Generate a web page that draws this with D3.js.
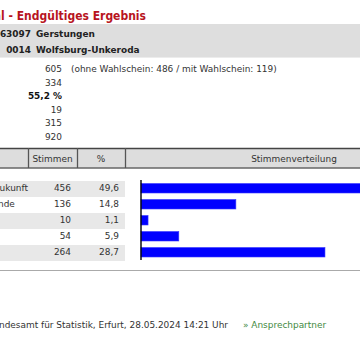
<!DOCTYPE html>
<html><head><meta charset="utf-8">
<script src="https://cdn.jsdelivr.net/npm/d3@7"></script>
<style>
html,body{margin:0;padding:0;background:#fff;overflow:hidden;}
svg{display:block;font-family:"DejaVu Sans",Verdana,sans-serif;}
</style></head><body>
<script>
const titleText = "Ortschaftsratswahl - Endgültiges Ergebnis";
const areaCodes = ["16063097", "0014"];
const areaNames = ["Gerstungen", "Wolfsburg-Unkeroda"];
const statLabels = ["Wahlberechtigte", "Wähler", "Wahlbeteiligung", "ungültige Stimmzettel", "gültige Stimmzettel", "gültige Stimmen"];
const statValues = ["605", "334", "55,2 %", "19", "315", "920"];
const statBold = [false, false, true, false, false, false];
const wahlscheinNote = "(ohne Wahlschein: 486 / mit Wahlschein: 119)";
const headers = ["", "Stimmen", "%", "Stimmenverteilung"];
const parties = ["Aktiv für unsere Zukunft", "Wir für die Gemeinde", "SPD", "CDU", "AfD"];
const votes = [456, 136, 10, 54, 264];
const percents = [49.6, 14.8, 1.1, 5.9, 28.7];
const footerText = "Thüringer Landesamt für Statistik, Erfurt, 28.05.2024 14:21 Uhr";
const linkText = "» Ansprechpartner";

const W = 360, H = 360;
const svg = d3.select("body").append("svg").attr("width", W).attr("height", H);
svg.append("rect").attr("width", W).attr("height", H).attr("fill", "#fff");
const fs = 8.95;
const fmt = v => d3.format(".1f")(v).replace(".", ",");

// title
svg.append("text").attr("x", 146).attr("y", 20).attr("text-anchor", "end")
  .attr("font-family", "'DejaVu Sans Condensed','DejaVu Sans',sans-serif")
  .attr("font-size", 12).attr("font-weight", "bold").attr("fill", "#b8141e")
  .text(titleText);

// area band
svg.append("rect").attr("x", 0).attr("y", 24).attr("width", W).attr("height", 33).attr("fill", "#dedede");
svg.append("line").attr("x1", 0).attr("x2", W).attr("y1", 57.5).attr("y2", 57.5).attr("stroke", "#ececec");
const bandY = d3.scalePoint().domain(d3.range(areaCodes.length)).range([36.5, 53]);
areaCodes.forEach((c, i) => {
  svg.append("text").attr("x", 31).attr("y", bandY(i)).attr("text-anchor", "end")
    .attr("font-size", fs).attr("font-weight", "bold").attr("fill", "#222").text(c);
  svg.append("text").attr("x", 36).attr("y", bandY(i))
    .attr("font-size", fs).attr("font-weight", "bold").attr("fill", "#222").text(areaNames[i]);
});

// stats
const statY = d3.scalePoint().domain(d3.range(statValues.length)).range([72.3, 139.5]);
statValues.forEach((v, i) => {
  svg.append("text").attr("x", -20).attr("y", statY(i)).attr("text-anchor", "end")
    .attr("font-size", fs).attr("fill", "#333").text(statLabels[i]);
  svg.append("text").attr("x", 62).attr("y", statY(i)).attr("text-anchor", "end")
    .attr("font-size", fs).attr("font-weight", statBold[i] ? "bold" : "normal")
    .attr("fill", statBold[i] ? "#111" : "#333").text(v);
});
svg.append("text").attr("x", 71).attr("y", statY(0)).attr("font-size", fs).attr("fill", "#333").text(wahlscheinNote);

// header
const colEdges = [-200, 28, 77, 125, 470];
svg.append("rect").attr("x", 0).attr("y", 148).attr("width", W).attr("height", 20).attr("fill", "#dddddd");
svg.append("line").attr("x1", 0).attr("x2", W).attr("y1", 148.5).attr("y2", 148.5).attr("stroke", "#444").attr("stroke-width", 1.5);
svg.append("line").attr("x1", 0).attr("x2", W).attr("y1", 168).attr("y2", 168).attr("stroke", "#666").attr("stroke-width", 1.5);
colEdges.slice(1, 4).forEach(x => {
  svg.append("line").attr("x1", x + 0.5).attr("x2", x + 0.5).attr("y1", 148).attr("y2", 168).attr("stroke", "#555").attr("stroke-width", 1.3);
});
const headerCenters = [null, 52.5, 101, 294];
headers.forEach((h, i) => {
  if (!h) return;
  svg.append("text").attr("x", headerCenters[i]).attr("y", 162).attr("text-anchor", "middle")
    .attr("font-size", fs).attr("fill", "#333").text(h);
});

// rows
const rowY = d3.scaleBand().domain(d3.range(parties.length)).range([181, 261]).paddingInner(0);
const rows = svg.append("g");
rows.selectAll("rect.bg").data(parties).join("rect")
  .attr("x", 0).attr("y", (d, i) => rowY(i)).attr("width", 125).attr("height", rowY.bandwidth())
  .attr("fill", (d, i) => i % 2 === 0 ? "#e8e8e8" : "#fff");

const nameTexts = rows.selectAll("text.name").data(parties).join("text")
  .attr("y", (d, i) => rowY(i) + 10.3).attr("font-size", fs).attr("fill", "#333").text(d => d);
const w0 = nameTexts.nodes()[0].getComputedTextLength();
nameTexts.attr("x", 28 - w0);

rows.selectAll("text.votes").data(votes).join("text")
  .attr("x", 71).attr("y", (d, i) => rowY(i) + 10.3).attr("text-anchor", "end")
  .attr("font-size", fs).attr("fill", "#333").text(d => d);
rows.selectAll("text.pct").data(percents).join("text")
  .attr("x", 119).attr("y", (d, i) => rowY(i) + 10.3).attr("text-anchor", "end")
  .attr("font-size", fs).attr("fill", "#333").text(d => fmt(d));

// bars
const x = d3.scaleLinear().domain([0, 50]).range([141, 141 + 320.5]);
svg.selectAll("rect.bar").data(percents).join("rect")
  .attr("x", x(0)).attr("y", (d, i) => rowY(i) + 2.5)
  .attr("width", d => x(d) - x(0)).attr("height", 9.5)
  .attr("fill", "#0000ff").attr("stroke", "#3a3aff").attr("stroke-width", 0.6);
svg.append("line").attr("x1", 141).attr("x2", 141).attr("y1", 180).attr("y2", 260)
  .attr("stroke", "#000").attr("stroke-width", 1.4);

// bottom rule & footer
svg.append("line").attr("x1", 0).attr("x2", W).attr("y1", 270.5).attr("y2", 270.5).attr("stroke", "#aaa").attr("stroke-width", 1);
svg.append("text").attr("x", 228).attr("y", 328).attr("text-anchor", "end")
  .attr("font-size", fs).attr("fill", "#333").text(footerText);
svg.append("text").attr("x", 243).attr("y", 328)
  .attr("font-size", fs).attr("fill", "#3f8a3f").text(linkText);
</script>
</body></html>
